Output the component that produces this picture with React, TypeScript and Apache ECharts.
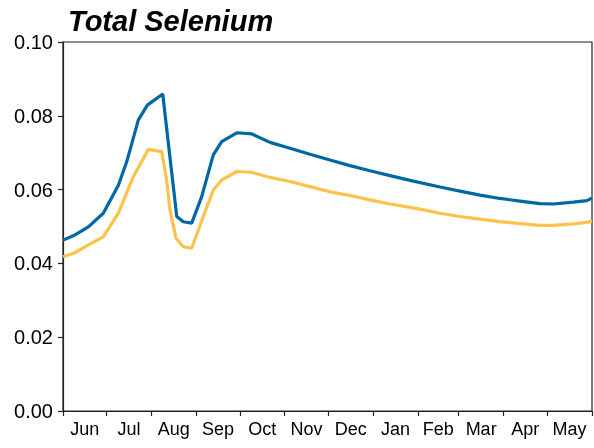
import React, { useEffect, useRef } from "react";
import * as echarts from "echarts";

const months = ["Jun", "Jul", "Aug", "Sep", "Oct", "Nov", "Dec", "Jan", "Feb", "Mar", "Apr", "May"];
const monthBoundaries = [0, 30, 61, 92, 122, 153, 183, 214, 245, 273, 304, 334, 365];
const yTicks = [0, 0.02, 0.04, 0.06, 0.08, 0.1];

const blueDays = [0, 8.3, 17.5, 27.8, 38.2, 44.0, 52.0, 58.2, 68.8, 78.5, 83.0, 88.8, 95.7, 103.7, 109.5, 119.9, 130.2, 142.8, 156.6, 170.4, 184.2, 198.0, 211.8, 225.6, 239.4, 260.1, 273.9, 287.7, 301.5, 315.3, 329.1, 338.3, 352.1, 361.4, 365];
const blueValues = [0.0463, 0.0477, 0.0499, 0.0536, 0.0612, 0.0676, 0.0789, 0.0829, 0.0859, 0.0527, 0.0513, 0.0509, 0.0581, 0.0694, 0.073, 0.0754, 0.0751, 0.0728, 0.0712, 0.0696, 0.068, 0.0665, 0.0651, 0.0638, 0.0625, 0.0607, 0.0596, 0.0585, 0.0576, 0.0569, 0.0562, 0.0561, 0.0566, 0.057, 0.0577];

const orangeDays = [0, 8.3, 17.5, 27.8, 38.2, 48.5, 58.9, 68.1, 71.5, 73.8, 78.0, 83.0, 88.8, 96.8, 103.7, 109.5, 119.9, 130.2, 142.8, 156.6, 170.4, 184.2, 198.0, 211.8, 225.6, 246.3, 260.1, 273.9, 287.7, 301.5, 315.3, 329.1, 338.3, 352.1, 361.4, 365];
const orangeValues = [0.0418, 0.0429, 0.045, 0.0472, 0.0536, 0.0635, 0.0709, 0.0703, 0.0626, 0.0545, 0.0468, 0.0445, 0.0441, 0.0527, 0.0599, 0.0626, 0.0649, 0.0647, 0.0633, 0.0622, 0.0608, 0.0594, 0.0584, 0.0572, 0.0561, 0.0547, 0.0536, 0.0527, 0.052, 0.0513, 0.0508, 0.0503, 0.0503, 0.0507, 0.0511, 0.0515];

const FONT = "Liberation Sans, Arial, sans-serif";

export default function App() {
  const ref = useRef<HTMLDivElement>(null);
  useEffect(() => {
    if (!ref.current) return;
    const chart = echarts.init(ref.current, undefined, { renderer: "svg" });
    const mids = months.map((_, i) => (monthBoundaries[i] + monthBoundaries[i + 1]) / 2);
    chart.setOption({
      animation: false,
      title: {
        text: "Total Selenium",
        left: 63,
        top: 1,
        textStyle: { fontSize: 29, fontWeight: "bold", fontStyle: "italic", fontFamily: FONT, color: "#000" },
      },
      grid: { left: 63, right: 2, top: 42, bottom: 37, show: true, borderColor: "#222", borderWidth: 1.2, backgroundColor: "transparent" },
      xAxis: {
        type: "value",
        min: 0,
        max: 365,
        splitLine: { show: false },
        axisLine: { show: true, lineStyle: { color: "#222", width: 1.2 } },
        axisTick: { show: true, length: 5, inside: false, customValues: monthBoundaries, lineStyle: { color: "#222", width: 1.2 } },
        axisLabel: {
          show: true,
          customValues: mids,
          fontSize: 18,
          fontFamily: FONT,
          color: "#000",
          margin: 9,
          formatter: (v: number) => {
            const i = mids.findIndex((m) => Math.abs(m - v) < 0.01);
            return i >= 0 ? months[i] : "";
          },
        },
      },
      yAxis: {
        type: "value",
        min: 0,
        max: 0.1,
        interval: 0.02,
        splitLine: { show: false },
        axisLine: { show: true, lineStyle: { color: "#222", width: 1.2 } },
        axisTick: { show: true, length: 5, lineStyle: { color: "#222", width: 1.2 } },
        axisLabel: {
          fontSize: 20,
          fontFamily: FONT,
          color: "#000",
          margin: 10,
          formatter: (v: number) => (yTicks.some((t) => Math.abs(t - v) < 1e-9) ? v.toFixed(2) : ""),
        },
      },
      series: [
        {
          type: "line",
          data: orangeDays.map((d, i) => [d, orangeValues[i]]),
          showSymbol: false,
          lineStyle: { color: "#fec24c", width: 3.2 },
          itemStyle: { color: "#fec24c" },
          clip: true,
        },
        {
          type: "line",
          data: blueDays.map((d, i) => [d, blueValues[i]]),
          showSymbol: false,
          lineStyle: { color: "#0067a5", width: 3.2 },
          itemStyle: { color: "#0067a5" },
          clip: true,
        },
      ],
    });
    return () => chart.dispose();
  }, []);
  return <div ref={ref} style={{ position: "fixed", left: 0, top: 0, width: 594, height: 448 }} />;
}
